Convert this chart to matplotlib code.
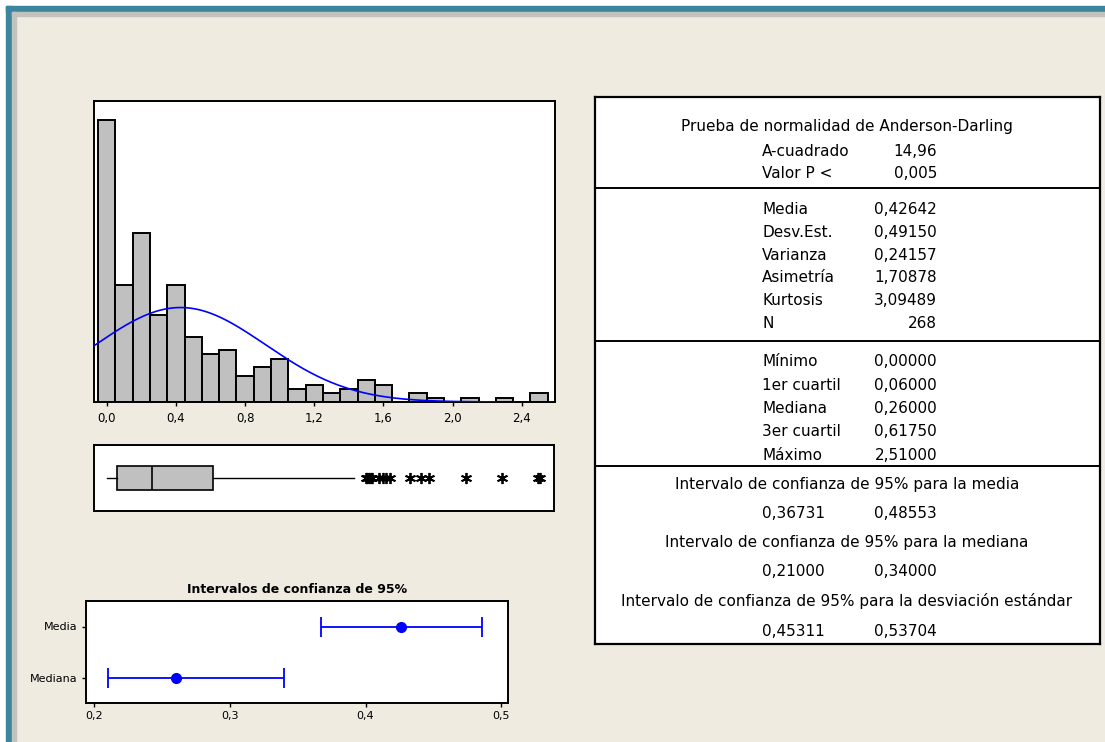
import numpy as np
import matplotlib.pyplot as plt
from matplotlib.patches import Rectangle
from matplotlib.ticker import FuncFormatter

plt.rcParams['font.family'] = ['DejaVu Sans']

W, H = 1105, 742
BG = '#efebe1'

# ---- histogram (bins 0.1 wide, centred on the labels) ----
bin_centres = [0.0, 0.1, 0.2, 0.3, 0.4, 0.5, 0.6, 0.7, 0.8, 0.9, 1.0, 1.1, 1.2,
               1.3, 1.4, 1.5, 1.6, 1.7, 1.8, 1.9, 2.0, 2.1, 2.2, 2.3, 2.4, 2.5]
counts = [65, 27, 39, 20, 27, 15, 11, 12, 6, 8, 10, 3, 4,
          2, 3, 5, 4, 0, 2, 1, 0, 1, 0, 1, 0, 2]
bin_width = 0.1
mean_val = 0.42642
sd_val = 0.49150
n_val = 268

# ---- boxplot ----
q1, q2, q3 = 0.06, 0.26, 0.6175
whis_lo, whis_hi = 0.0, 1.43
fliers = [1.50, 1.51, 1.52, 1.53, 1.54, 1.58, 1.60, 1.62, 1.64,
          1.76, 1.82, 1.87, 2.08, 2.29, 2.50, 2.51]

# ---- 95% confidence intervals ----
ci_names = ['Media', 'Mediana']
ci_est = [0.42642, 0.26]
ci_low = [0.36731, 0.21]
ci_high = [0.48553, 0.34]

# ---- summary table ----
ad_title = 'Prueba de normalidad de Anderson-Darling'
ad_labels = ['A-cuadrado', 'Valor P <']
ad_values = ['14,96', '0,005']
desc_labels = ['Media', 'Desv.Est.', 'Varianza', 'Asimetría', 'Kurtosis', 'N']
desc_values = ['0,42642', '0,49150', '0,24157', '1,70878', '3,09489', '268']
quart_labels = ['Mínimo', '1er cuartil', 'Mediana', '3er cuartil', 'Máximo']
quart_values = ['0,00000', '0,06000', '0,26000', '0,61750', '2,51000']
ci_titles = ['Intervalo de confianza de 95% para la media',
             'Intervalo de confianza de 95% para la mediana',
             'Intervalo de confianza de 95% para la desviación estándar']
ci_pairs = [('0,36731', '0,48553'), ('0,21000', '0,34000'), ('0,45311', '0,53704')]


def px_axes(fig, left, top, right, bottom):
    return fig.add_axes([left / W, 1 - bottom / H, (right - left) / W, (bottom - top) / H])


def comma(v, _):
    return f"{v:.1f}".replace('.', ',')


fig = plt.figure(figsize=(W / 100, H / 100), dpi=100, facecolor=BG)

# window frame (teal strip + grey strip, top and left)
for (x0, y0, w, h, c) in [(0, 0, W, 6, 'white'), (0, 0, 6, H, 'white'),
                          (6, 6, W, 6, '#3b869e'), (6, 6, 6, H, '#3b869e'),
                          (12, 12, W, 4, '#c4c2bc'), (12, 12, 4, H, '#c4c2bc')]:
    fig.patches.append(Rectangle((x0 / W, 1 - (y0 + h) / H), w / W, h / H,
                                 transform=fig.transFigure, color=c, zorder=0))

xlim = (-0.074, 2.592)

# histogram
ax = px_axes(fig, 94, 101, 555, 402)
ax.bar(bin_centres, counts, width=bin_width, color='#c0c0c0', edgecolor='black', linewidth=1.4, zorder=2)
xs = np.linspace(xlim[0], 2.25, 300)
pdf = n_val * bin_width * np.exp(-0.5 * ((xs - mean_val) / sd_val) ** 2) / (sd_val * np.sqrt(2 * np.pi))
ax.plot(xs, pdf, color='#0000ff', lw=1.2, zorder=3)
ax.set_xlim(*xlim)
ax.set_ylim(0, 69.3)
ax.set_xticks([0.0, 0.4, 0.8, 1.2, 1.6, 2.0, 2.4])
ax.xaxis.set_major_formatter(FuncFormatter(comma))
ax.set_yticks([])
ax.tick_params(axis='x', direction='out', length=3, width=1, labelsize=8.5, pad=4)

# boxplot
axb = px_axes(fig, 94, 445, 554, 511)
stats = [dict(q1=q1, med=q2, q3=q3, whislo=whis_lo, whishi=whis_hi, fliers=fliers)]
axb.bxp(stats, positions=[0.5], widths=0.37, vert=False, patch_artist=True, showcaps=False,
        boxprops=dict(facecolor='#c0c0c0', edgecolor='black', linewidth=1.2),
        medianprops=dict(color='black', linewidth=1.2),
        whiskerprops=dict(color='black', linewidth=1.0),
        flierprops=dict(marker=(6, 2, 0), markersize=8, markeredgecolor='black',
                        markeredgewidth=1.3, linestyle='none'))
axb.set_xlim(*xlim)
axb.set_ylim(0, 1)
axb.set_xticks([])
axb.set_yticks([])

# confidence intervals
axc = px_axes(fig, 86, 601, 508, 703)
ypos = [2, 1]
for y, e, lo, hi in zip(ypos, ci_est, ci_low, ci_high):
    axc.errorbar([e], [y], xerr=[[e - lo], [hi - e]], fmt='o', color='#0000ff',
                 markersize=7, capsize=7, capthick=1.3, elinewidth=1.3)
axc.set_xlim(0.194, 0.505)
axc.set_ylim(0.5, 2.5)
axc.set_yticks(ypos)
axc.set_yticklabels(ci_names)
axc.set_xticks([0.2, 0.3, 0.4, 0.5])
axc.xaxis.set_major_formatter(FuncFormatter(comma))
axc.tick_params(direction='out', length=3, width=1, labelsize=8, pad=3)
axc.set_title('Intervalos de confianza de 95%', fontsize=9, fontweight='bold', pad=6)

for a in (ax, axb, axc):
    a.set_facecolor('white')
    for s in a.spines.values():
        s.set_linewidth(1.4)

# summary table, drawn in pixel units
axt = px_axes(fig, 595, 97, 1100, 644)
axt.set_xlim(595, 1100)
axt.set_ylim(644, 97)
axt.set_xticks([])
axt.set_yticks([])
axt.set_facecolor('white')
for s in axt.spines.values():
    s.set_linewidth(1.6)
for yl in [188, 341, 466]:
    axt.axhline(yl, color='black', lw=1.4)

fs = 11
cx, lx, rx = 847, 762, 937
axt.text(cx, 127, ad_title, ha='center', va='center', fontsize=fs)
for i, (lab, val) in enumerate(zip(ad_labels, ad_values)):
    y = 152 + 22 * i
    axt.text(lx, y, lab, ha='left', va='center', fontsize=fs)
    axt.text(rx, y, val, ha='right', va='center', fontsize=fs)
for i, (lab, val) in enumerate(zip(desc_labels, desc_values)):
    y = 210 + 22.6 * i
    axt.text(lx, y, lab, ha='left', va='center', fontsize=fs)
    axt.text(rx, y, val, ha='right', va='center', fontsize=fs)
for i, (lab, val) in enumerate(zip(quart_labels, quart_values)):
    y = 362 + 23.3 * i
    axt.text(lx, y, lab, ha='left', va='center', fontsize=fs)
    axt.text(rx, y, val, ha='right', va='center', fontsize=fs)
for i, (title, (v1, v2)) in enumerate(zip(ci_titles, ci_pairs)):
    yt = [484, 542, 601][i]
    axt.text(cx, yt, title, ha='center', va='center', fontsize=fs)
    axt.text(lx, yt + 30, v1, ha='left', va='center', fontsize=fs)
    axt.text(rx, yt + 30, v2, ha='right', va='center', fontsize=fs)

fs_unused = None
fig.savefig('out.png', dpi=100, facecolor=BG)
